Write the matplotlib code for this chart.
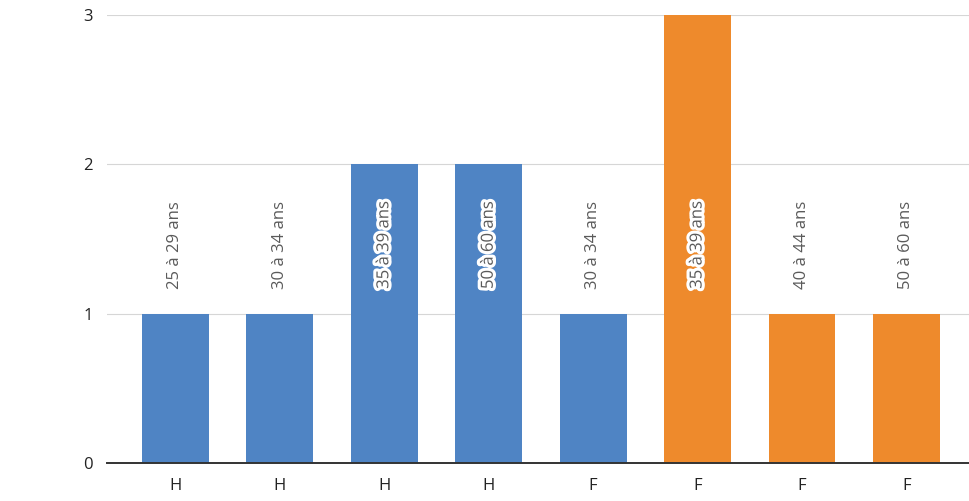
import matplotlib.pyplot as plt
import matplotlib.patheffects as pe

# Effectifs par sexe et tranche d'âge
sexes = ["H", "H", "H", "H", "F", "F", "F", "F"]
tranches = [
    "25 à 29 ans",
    "30 à 34 ans",
    "35 à 39 ans",
    "50 à 60 ans",
    "30 à 34 ans",
    "35 à 39 ans",
    "40 à 44 ans",
    "50 à 60 ans",
]
effectifs = [1, 1, 2, 2, 1, 3, 1, 1]
y_ticks = [0, 1, 2, 3]

BLUE = "#4f84c4"
ORANGE = "#ee8a2c"
bar_colors = [BLUE] * 5 + [ORANGE] * 3

plt.rcParams["font.family"] = ["Open Sans", "DejaVu Sans"]

fig = plt.figure(figsize=(9.69, 5.01), dpi=100)
ax = fig.add_axes([0.110, 0.076, 0.890, 0.894])

x = list(range(len(effectifs)))
ax.bar(x, effectifs, width=0.64, color=bar_colors, zorder=2)

# tranche d'âge écrite verticalement, avec un halo blanc quand elle tombe dans la barre
for xi, val, lab in zip(x, effectifs, tranches):
    txt = ax.text(xi, 1.46, lab, rotation=90, ha="center", va="center",
                  fontsize=12, color="#5a5a5a", zorder=3)
    if val > 1.5:
        txt.set_path_effects([pe.withStroke(linewidth=4.5, foreground="white")])

ax.set_xlim(-0.66, 7.6)
ax.set_ylim(0, 3)
ax.set_yticks(y_ticks)
ax.set_xticks(x)
ax.set_xticklabels(sexes)
ax.tick_params(axis="both", length=0, labelsize=12, colors="#222222")
ax.tick_params(axis="x", pad=11)
ax.tick_params(axis="y", pad=10)

ax.grid(axis="y", color="#d6d6d6", linewidth=0.8, zorder=0)
for side in ["top", "right", "left"]:
    ax.spines[side].set_visible(False)
ax.spines["bottom"].set_color("#333333")
ax.spines["bottom"].set_linewidth(1.4)
ax.spines["bottom"].set_zorder(4)

fig.savefig("out.png", dpi=100, facecolor="white")
